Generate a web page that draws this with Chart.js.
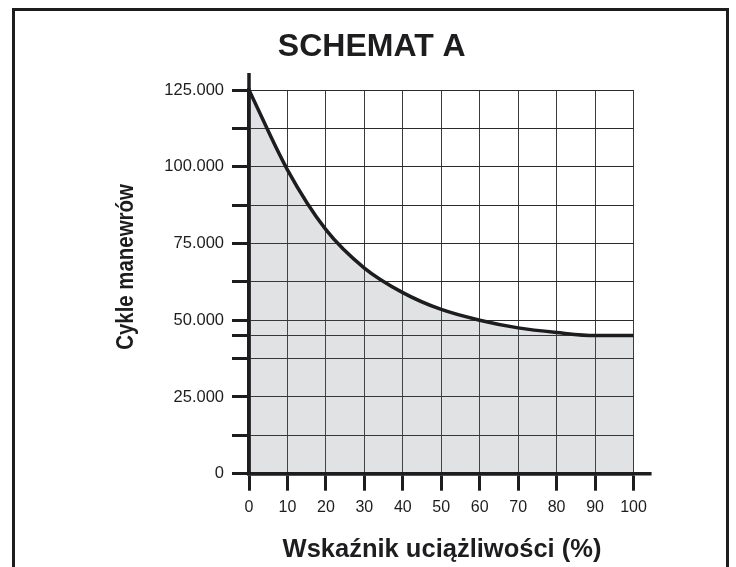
<!DOCTYPE html>
<html><head><meta charset="utf-8">
<script src="https://cdn.jsdelivr.net/npm/chart.js@4.4.1/dist/chart.umd.min.js"></script>
<style>
html,body{margin:0;padding:0;background:#fff;overflow:hidden}
#wrap{position:relative;width:736px;height:567px;overflow:hidden}
#frame{position:absolute;left:12px;top:8px;width:717px;height:620px;box-sizing:border-box;border:3px solid #1d1d1f;border-bottom:none}
canvas{position:absolute;left:0;top:0}
</style></head><body>
<div id="wrap"><div id="frame"></div><canvas id="c" width="736" height="567"></canvas></div>
<script>
const chartTitle = 'SCHEMAT A';
const xAxisTitle = 'Wskaźnik uciążliwości (%)';
const yAxisTitle = 'Cykle manewrów';
const dutyPercent = [0, 10, 20, 30, 40, 50, 60, 70, 80, 90, 100];
const cycles = [125000, 99000, 79500, 67000, 59000, 53500, 50000, 47500, 46000, 45000, 45000];
const xTickValues = [0, 10, 20, 30, 40, 50, 60, 70, 80, 90, 100];
const yGridValues = [0, 12500, 25000, 37500, 45000, 50000, 62500, 75000, 87500, 100000, 112500, 125000];
const yLabelValues = [0, 25000, 50000, 75000, 100000, 125000];
const xAxisEnd = 104.7;
const yAxisEnd = 130500;

const INK = '#1d1d1f';
const FONT = "'Liberation Sans', Arial, Helvetica, sans-serif";

function fmtThousands(v) {
  return v === 0 ? '0' : (v / 1000).toFixed(0) + '.000';
}

const axisPlugin = {
  id: 'axisExtras',
  afterDatasetsDraw(chart) {
    const {ctx, scales: {x, y}} = chart;
    ctx.save();
    ctx.strokeStyle = INK;
    ctx.lineWidth = 3.5;
    ctx.lineCap = 'butt';
    ctx.beginPath();
    ctx.moveTo(x.getPixelForValue(0), y.getPixelForValue(0) + 1.75);
    ctx.lineTo(x.getPixelForValue(0), y.getPixelForValue(yAxisEnd));
    ctx.moveTo(x.getPixelForValue(0) - 1.75, y.getPixelForValue(0));
    ctx.lineTo(x.getPixelForValue(xAxisEnd), y.getPixelForValue(0));
    ctx.stroke();
    ctx.fillStyle = INK;
    ctx.textAlign = 'center';
    ctx.textBaseline = 'middle';
    ctx.font = 'bold 25.5px ' + FONT;
    ctx.fillText(xAxisTitle, 442, 550);
    ctx.translate(126, 267);
    ctx.rotate(-Math.PI / 2);
    ctx.scale(0.85, 1);
    ctx.font = 'bold 24px ' + FONT;
    ctx.fillText(yAxisTitle, 0, 0);
    ctx.restore();
  }
};

new Chart(document.getElementById('c'), {
  type: 'line',
  data: {
    datasets: [{
      data: dutyPercent.map((p, i) => ({x: p, y: cycles[i]})),
      borderColor: INK,
      borderWidth: 3.5,
      backgroundColor: 'rgba(105,110,120,0.2)',
      fill: 'origin',
      pointRadius: 0,
      cubicInterpolationMode: 'monotone',
      clip: 4
    }]
  },
  options: {
    responsive: false,
    animation: false,
    events: [],
    layout: {padding: {left: 110, right: 102.5, top: 0, bottom: 0}},
    plugins: {
      legend: {display: false},
      tooltip: {enabled: false},
      title: {
        display: true,
        text: chartTitle,
        color: INK,
        font: {family: FONT, size: 32, weight: 'bold'},
        padding: {top: 27.5, bottom: 24.1}
      }
    },
    scales: {
      x: {
        type: 'linear',
        min: 0,
        max: 100,
        afterBuildTicks: s => { s.ticks = xTickValues.map(v => ({value: v})); },
        afterFit: s => { s.height = 93.3; },
        ticks: {color: INK, font: {family: FONT, size: 16}, padding: 7, autoSkip: false, maxRotation: 0},
        grid: {color: '#3a3a3a', lineWidth: 1, tickLength: 17, tickWidth: 3, tickColor: INK},
        border: {display: true, color: INK, width: 3.5}
      },
      y: {
        min: 0,
        max: 125000,
        afterBuildTicks: s => { s.ticks = yGridValues.map(v => ({value: v})); },
        afterFit: s => { s.width = 139; },
        ticks: {
          color: INK, font: {family: FONT, size: 16.5}, padding: 8, autoSkip: false,
          callback: v => yLabelValues.includes(v) ? fmtThousands(v) : ''
        },
        grid: {color: '#2a2a2a', lineWidth: 1, tickLength: 17, tickWidth: 3, tickColor: INK},
        border: {display: true, color: INK, width: 3.5}
      }
    }
  },
  plugins: [axisPlugin]
});
</script>
</body></html>
